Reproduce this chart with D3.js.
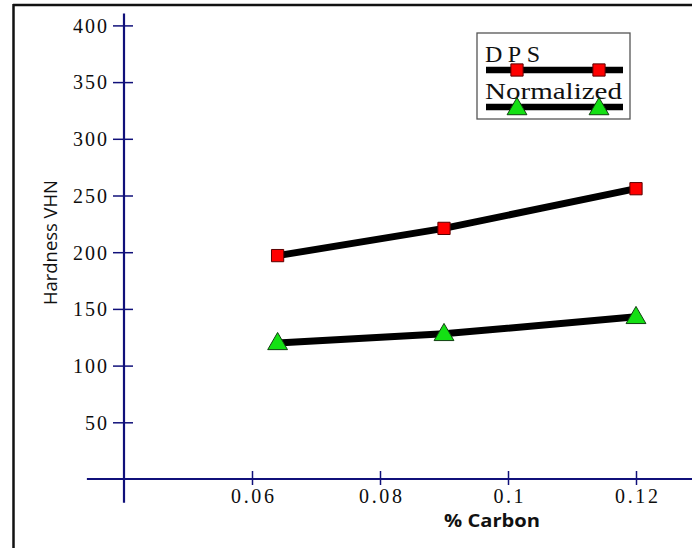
<!DOCTYPE html>
<html><head><meta charset="utf-8">
<script src="https://cdn.jsdelivr.net/npm/d3@7/dist/d3.min.js"></script>
<style>html,body{margin:0;padding:0;background:#fff;}svg{display:block;}</style>
</head><body>
<script>
const carbon = [0.064, 0.09, 0.12];
const dps = [197, 221, 256];
const normalized = [120, 128, 143];
const seriesNames = ["DPS", "Normalized"];
const yTicks = [50, 100, 150, 200, 250, 300, 350, 400];
const xTicks = [0.06, 0.08, 0.1, 0.12];
const xTickLabels = ["0.06", "0.08", "0.1", "0.12"];

const W = 692, H = 548;
const svg = d3.select("body").append("svg").attr("width", W).attr("height", H);

const x = d3.scaleLinear().domain([0.04, 0.12]).range([124, 636]);
const y = d3.scaleLinear().domain([0, 400]).range([479, 25.4]);
const axisColor = "#10107a";
const serif = "'Liberation Serif','Times New Roman',serif";

// frame
svg.append("line").attr("x1", 13).attr("x2", W).attr("y1", 5).attr("y2", 5).attr("stroke", "#111").attr("stroke-width", 2.5);
svg.append("line").attr("x1", 13.5).attr("x2", 13.5).attr("y1", 4).attr("y2", H).attr("stroke", "#111").attr("stroke-width", 2.5);

// Y axis
const gy = svg.append("g").attr("transform", `translate(${x(0.04)},0)`)
  .call(d3.axisLeft(y).tickValues(yTicks).tickSize(0).tickPadding(15));
gy.select(".domain").remove();
gy.selectAll("text").attr("font-family", serif).attr("font-size", 20).attr("letter-spacing", 2)
  .attr("fill", "#0d0d0d").attr("dy", "0.34em");
gy.selectAll(".tick").append("line").attr("x1", -11).attr("x2", 9).attr("stroke", axisColor).attr("stroke-width", 1.5);
svg.append("line").attr("x1", x(0.04)).attr("x2", x(0.04)).attr("y1", y(410.5)).attr("y2", y(-21))
  .attr("stroke", axisColor).attr("stroke-width", 2.2);

// X axis
const gx = svg.append("g").attr("transform", `translate(0,${y(0)})`)
  .call(d3.axisBottom(x).tickValues(xTicks).tickFormat((d, i) => xTickLabels[i]).tickSize(0).tickPadding(10));
gx.select(".domain").remove();
gx.selectAll("text").attr("font-family", serif).attr("font-size", 20).attr("letter-spacing", 2.6)
  .attr("dx", 1.3).attr("fill", "#0d0d0d");
gx.selectAll(".tick").append("line").attr("y1", -8).attr("y2", 6).attr("stroke", axisColor).attr("stroke-width", 1.5);
svg.append("line").attr("x1", x(0.0342)).attr("x2", W).attr("y1", y(0)).attr("y2", y(0))
  .attr("stroke", axisColor).attr("stroke-width", 2.2);

// axis titles
svg.append("text").attr("x", 492).attr("y", 527).attr("text-anchor", "middle")
  .attr("font-family", "'Open Sans',sans-serif").attr("font-weight", "bold").attr("font-size", 17.5).attr("fill", "#111")
  .attr("textLength", 96).attr("lengthAdjust", "spacingAndGlyphs")
  .text("% Carbon");
svg.append("text").attr("transform", "translate(57,242.5) rotate(-90)").attr("text-anchor", "middle")
  .attr("font-family", "'Open Sans',sans-serif").attr("font-size", 18).attr("fill", "#111")
  .attr("textLength", 125).attr("lengthAdjust", "spacingAndGlyphs")
  .text("Hardness VHN");

// series
const line = d3.line().x(d => x(d[0])).y(d => y(d[1]));
const dpsPts = carbon.map((c, i) => [c, dps[i]]);
const normPts = carbon.map((c, i) => [c, normalized[i]]);
svg.append("path").attr("d", line(dpsPts)).attr("fill", "none").attr("stroke", "#000").attr("stroke-width", 7);
svg.append("path").attr("d", line(normPts)).attr("fill", "none").attr("stroke", "#000").attr("stroke-width", 7);

const sq = d3.symbol().type(d3.symbolSquare).size(150);
const tri = d3.symbol().type(d3.symbolTriangle).size(170);
function squares(pts) {
  svg.append("g").selectAll("path").data(pts).join("path")
    .attr("d", sq).attr("transform", d => `translate(${x(d[0])},${y(d[1])})`)
    .attr("fill", "#f00").attr("stroke", "#5a0000").attr("stroke-width", 1);
}
function triangles(pts) {
  svg.append("g").selectAll("path").data(pts).join("path")
    .attr("d", tri).attr("transform", d => `translate(${x(d[0])},${y(d[1]) + 1})`)
    .attr("fill", "#14e014").attr("stroke", "#104010").attr("stroke-width", 1);
}
squares(dpsPts);
triangles(normPts);

// legend
const lg = svg.append("g");
lg.append("rect").attr("x", 477).attr("y", 33).attr("width", 153).attr("height", 86)
  .attr("fill", "#fff").attr("stroke", "#555").attr("stroke-width", 1.3);
lg.append("text").attr("x", 485).attr("y", 62).attr("font-family", serif).attr("font-size", 24).attr("fill", "#111")
  .attr("textLength", 55).attr("lengthAdjust", "spacing").text(seriesNames[0]);
lg.append("text").attr("x", 485).attr("y", 99).attr("font-family", serif).attr("font-size", 24).attr("fill", "#111")
  .attr("textLength", 137).attr("lengthAdjust", "spacingAndGlyphs").text(seriesNames[1]);
lg.append("line").attr("x1", 486).attr("x2", 623).attr("y1", 70).attr("y2", 70).attr("stroke", "#000").attr("stroke-width", 6.5);
lg.append("line").attr("x1", 486).attr("x2", 623).attr("y1", 107).attr("y2", 107).attr("stroke", "#000").attr("stroke-width", 6.5);
[517, 599].forEach(px => {
  lg.append("path").attr("d", sq).attr("transform", `translate(${px},70)`).attr("fill", "#f00").attr("stroke", "#5a0000").attr("stroke-width", 1);
  lg.append("path").attr("d", tri).attr("transform", `translate(${px},109)`).attr("fill", "#14e014").attr("stroke", "#104010").attr("stroke-width", 1);
});
</script>
</body></html>
